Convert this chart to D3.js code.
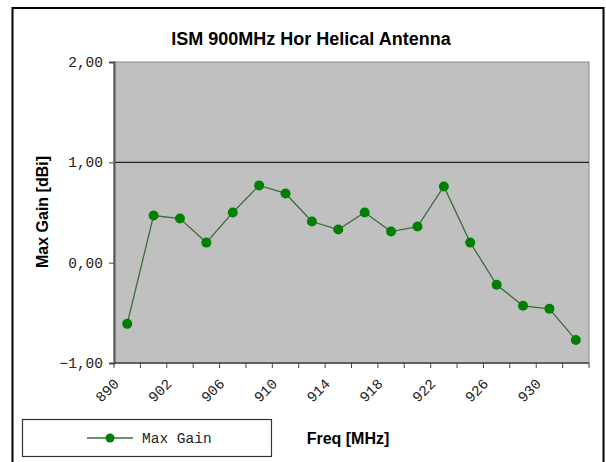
<!DOCTYPE html>
<html>
<head>
<meta charset="utf-8">
<script src="https://cdn.jsdelivr.net/npm/d3@7"></script>
<style>
  body { margin: 0; background: #fff; }
</style>
</head>
<body>
<script>
// chart data
var freqs = ["890", "900", "902", "904", "906", "908", "910", "912", "914",
             "916", "918", "920", "922", "924", "926", "928", "930", "932"];
var maxGain = [-0.61, 0.47, 0.44, 0.20, 0.50, 0.77, 0.69, 0.41, 0.33,
               0.50, 0.31, 0.36, 0.76, 0.20, -0.22, -0.43, -0.46, -0.77];
var yTicks = [-1, 0, 1, 2];
var gridValues = [1];

var W = 606, H = 462;
var plot = { left: 114, right: 589, top: 62, bottom: 363 };

var svg = d3.select("body").append("svg")
    .attr("width", W)
    .attr("height", H);

// outer chart frame (cut off at the bottom like the original)
svg.append("rect")
    .attr("x", 12.5).attr("y", 8)
    .attr("width", 591).attr("height", 470)
    .attr("fill", "#fff")
    .attr("stroke", "#000")
    .attr("stroke-width", 2);

var x = d3.scaleBand()
    .domain(freqs)
    .range([plot.left, plot.right])
    .padding(0);

var y = d3.scaleLinear()
    .domain([-1, 2])
    .range([plot.bottom, plot.top]);

// plot area
svg.append("rect")
    .attr("x", plot.left).attr("y", plot.top)
    .attr("width", plot.right - plot.left)
    .attr("height", plot.bottom - plot.top)
    .attr("fill", "#c0c0c0")
    .attr("stroke", "#8a8a8a")
    .attr("stroke-width", 1);

// gridline
svg.selectAll(".grid")
    .data(gridValues)
    .enter()
    .append("line")
    .attr("x1", plot.left).attr("x2", plot.right)
    .attr("y1", function(d) { return y(d); })
    .attr("y2", function(d) { return y(d); })
    .attr("stroke", "#222")
    .attr("stroke-width", 1.2);

// y axis
var yAxis = svg.append("g")
    .attr("transform", "translate(" + plot.left + ",0)")
    .call(d3.axisLeft(y)
        .tickValues(yTicks)
        .tickSize(5)
        .tickPadding(6)
        .tickFormat(function(d) { return d3.format(".2f")(d).replace(".", ",").replace("-", "\u2212"); }));
yAxis.select(".domain").attr("stroke", "#555").attr("stroke-width", 2);
yAxis.selectAll(".tick line").attr("stroke", "#444");
yAxis.selectAll("text")
    .attr("font-family", "Liberation Mono, monospace")
    .attr("font-size", "14.5px")
    .attr("fill", "#222");

// x axis line
svg.append("line")
    .attr("x1", plot.left).attr("x2", plot.right)
    .attr("y1", plot.bottom).attr("y2", plot.bottom)
    .attr("stroke", "#444")
    .attr("stroke-width", 1.5);

// x ticks between categories
var bounds = freqs.map(function(d) { return x(d); }).concat([x(freqs[freqs.length - 1]) + x.bandwidth()]);
svg.selectAll(".xtick")
    .data(bounds)
    .enter()
    .append("line")
    .attr("x1", function(d) { return d; })
    .attr("x2", function(d) { return d; })
    .attr("y1", plot.bottom)
    .attr("y2", plot.bottom + 5)
    .attr("stroke", "#444");

// x labels, every other category
svg.selectAll(".xlabel")
    .data(freqs.filter(function(d, i) { return i % 2 === 0; }))
    .enter()
    .append("text")
    .attr("transform", function(d) {
        return "translate(" + (x(d) + x.bandwidth() / 2 - 11) + "," + (plot.bottom + 18) + ") rotate(-45)";
    })
    .attr("text-anchor", "end")
    .attr("dy", "0.35em")
    .attr("font-family", "Liberation Mono, monospace")
    .attr("font-size", "14.5px")
    .attr("fill", "#222")
    .text(function(d) { return d; });

// series line
var line = d3.line()
    .x(function(d, i) { return x(freqs[i]) + x.bandwidth() / 2; })
    .y(function(d) { return y(d); });

svg.append("path")
    .datum(maxGain)
    .attr("d", line)
    .attr("fill", "none")
    .attr("stroke", "#3b6e3b")
    .attr("stroke-width", 1.3);

svg.selectAll(".pt")
    .data(maxGain)
    .enter()
    .append("circle")
    .attr("cx", function(d, i) { return x(freqs[i]) + x.bandwidth() / 2; })
    .attr("cy", function(d) { return y(d); })
    .attr("r", 5)
    .attr("fill", "#008000");

// title
svg.append("text")
    .attr("x", 311).attr("y", 45)
    .attr("text-anchor", "middle")
    .attr("font-family", "Liberation Sans, Arial, sans-serif")
    .attr("font-weight", "bold")
    .attr("font-size", "18px")
    .attr("fill", "#000")
    .text("ISM 900MHz Hor Helical Antenna");

// axis titles
svg.append("text")
    .attr("transform", "translate(48,212) rotate(-90)")
    .attr("text-anchor", "middle")
    .attr("font-family", "Liberation Sans, Arial, sans-serif")
    .attr("font-weight", "bold")
    .attr("font-size", "16px")
    .text("Max Gain [dBi]");

svg.append("text")
    .attr("x", 348).attr("y", 444)
    .attr("text-anchor", "middle")
    .attr("font-family", "Liberation Sans, Arial, sans-serif")
    .attr("font-weight", "bold")
    .attr("font-size", "16px")
    .text("Freq [MHz]");

// legend
var legend = svg.append("g");
legend.append("rect")
    .attr("x", 22.5).attr("y", 419.5)
    .attr("width", 249).attr("height", 37)
    .attr("fill", "#fff")
    .attr("stroke", "#333")
    .attr("stroke-width", 1.2);
legend.append("line")
    .attr("x1", 87).attr("x2", 133)
    .attr("y1", 438).attr("y2", 438)
    .attr("stroke", "#3b6e3b")
    .attr("stroke-width", 1.3);
legend.append("circle")
    .attr("cx", 110).attr("cy", 438).attr("r", 4.5)
    .attr("fill", "#008000");
legend.append("text")
    .attr("x", 142).attr("y", 438)
    .attr("dy", "0.35em")
    .attr("font-family", "Liberation Mono, monospace")
    .attr("font-size", "14.5px")
    .attr("fill", "#222")
    .text("Max Gain");
</script>
</body>
</html>
